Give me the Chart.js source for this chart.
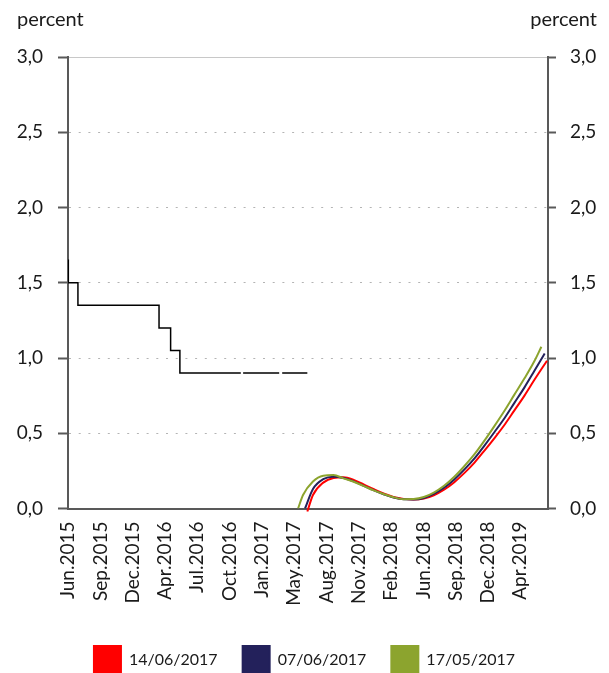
<!DOCTYPE html>
<html>
<head>
<meta charset="utf-8">
<script src="https://cdn.jsdelivr.net/npm/chart.js@4.4.1/dist/chart.umd.min.js"></script>
<style>
  html, body { margin: 0; padding: 0; background: #fff; }
  #wrap { position: relative; width: 609px; height: 673px; }
</style>
</head>
<body>
<div id="wrap"><canvas id="grafico" width="609" height="673"></canvas></div>
<script>
// Policy rate (black step line), dates of the changes
const taxaDatas = ['2015-06-22', '2015-06-23', '2015-07-22', '2016-03-23', '2016-04-27', '2016-05-25',
  '2016-11-25', '2016-11-28', '2016-12-02', '2017-03-21', '2017-03-25', '2017-03-30', '2017-06-14'];
const taxaValores = [1.65, 1.50, 1.35, 1.20, 1.05, 0.90, 0.90, null, 0.90, 0.90, null, 0.90, 0.90];

// Forward curve 14/06/2017 (red)
const curvaVermelhaDatas = ['2017-06-14', '2017-07-01', '2017-08-01', '2017-09-01', '2017-10-01', '2017-11-01', '2017-12-01',
  '2018-01-01', '2018-02-01', '2018-03-01', '2018-04-01', '2018-05-01', '2018-06-01', '2018-07-01', '2018-08-01',
  '2018-09-01', '2018-10-01', '2018-11-01', '2018-12-01', '2019-01-01', '2019-02-01', '2019-03-01', '2019-04-01',
  '2019-05-01', '2019-06-08'];
const curvaVermelhaValores = [-0.02, 0.09, 0.172, 0.203, 0.207, 0.19, 0.16, 0.128, 0.098, 0.077, 0.064, 0.06, 0.066,
  0.088, 0.125, 0.175, 0.235, 0.305, 0.385, 0.47, 0.56, 0.65, 0.75, 0.855, 0.982];

// Forward curve 07/06/2017 (navy)
const curvaAzulDatas = ['2017-06-07', '2017-07-01', '2017-08-01', '2017-09-01', '2017-10-01', '2017-11-01', '2017-12-01',
  '2018-01-01', '2018-02-01', '2018-03-01', '2018-04-01', '2018-05-01', '2018-06-01', '2018-07-01', '2018-08-01',
  '2018-09-01', '2018-10-01', '2018-11-01', '2018-12-01', '2019-01-01', '2019-02-01', '2019-03-01', '2019-04-01',
  '2019-05-01', '2019-06-01'];
const curvaAzulValores = [0.0, 0.13, 0.195, 0.211, 0.203, 0.18, 0.15, 0.12, 0.093, 0.073, 0.061, 0.06, 0.07,
  0.097, 0.138, 0.193, 0.258, 0.333, 0.418, 0.51, 0.605, 0.70, 0.805, 0.915, 1.03];

// Forward curve 17/05/2017 (green)
const curvaVerdeDatas = ['2017-05-17', '2017-06-01', '2017-07-01', '2017-08-01', '2017-09-01', '2017-10-01', '2017-11-01',
  '2017-12-01', '2018-01-01', '2018-02-01', '2018-03-01', '2018-04-01', '2018-05-01', '2018-06-01', '2018-07-01',
  '2018-08-01', '2018-09-01', '2018-10-01', '2018-11-01', '2018-12-01', '2019-01-01', '2019-02-01', '2019-03-01',
  '2019-04-01', '2019-05-01', '2019-05-22'];
const curvaVerdeValores = [0.0, 0.09, 0.18, 0.218, 0.222, 0.20, 0.178, 0.15, 0.12, 0.095, 0.075, 0.062, 0.063, 0.076,
  0.106, 0.151, 0.211, 0.281, 0.361, 0.451, 0.551, 0.655, 0.755, 0.865, 0.98, 1.075];

// Legend labels
const rotulosSeries = ['14/06/2017', '07/06/2017', '17/05/2017'];

// X axis: tick positions and their labels
const inicioEixo = '2015-06-22';
const fimEixo = '2019-06-11';
const ticksDatas = ['2015-06-22', '2015-09-28', '2016-01-03', '2016-04-10', '2016-07-16', '2016-10-22', '2017-01-28',
  '2017-05-05', '2017-08-11', '2017-11-16', '2018-02-22', '2018-05-31', '2018-09-05', '2018-12-12', '2019-03-19'];
const ticksRotulos = ['Jun.2015', 'Sep.2015', 'Dec.2015', 'Apr.2016', 'Jul.2016', 'Oct.2016', 'Jan.2017',
  'May.2017', 'Aug.2017', 'Nov.2017', 'Feb.2018', 'Jun.2018', 'Sep.2018', 'Dec.2018', 'Apr.2019'];

// Y axis ticks (both sides)
const ticksY = [0, 0.5, 1.0, 1.5, 2.0, 2.5, 3.0];

// Converte data ISO em número de dias
function dia(d) {
    return Date.parse(d) / 864e5;
}

function pontos(datas, valores) {
    return datas.map((d, i) => ({ x: dia(d), y: valores[i] }));
}

const corTexto = '#1a1a1a';
const corEixo = '#595959';
const fonte = { family: 'Lato', size: 19 };

// Rótulos "percent" no topo
const rotulosPercent = {
    id: 'rotulosPercent',
    afterDraw(chart) {
        let ctx = chart.ctx;
        ctx.save();
        ctx.font = '20px Lato';
        ctx.fillStyle = corTexto;
        ctx.textBaseline = 'alphabetic';
        ctx.textAlign = 'left';
        ctx.fillText('percent', 17, 26);
        ctx.textAlign = 'right';
        ctx.fillText('percent', 597, 26);
        ctx.restore();
    }
};

function formatarY(v) {
    return v.toFixed(1).replace('.', ',');
}

function eixoY(posicao, largura, tamanhoTick, padding, comGrade) {
    return {
        type: 'linear',
        position: posicao,
        min: 0,
        max: 3,
        afterBuildTicks: s => { s.ticks = ticksY.map(v => ({ value: v })); },
        afterFit: s => { s.width = largura; },
        ticks: { padding: padding, color: corTexto, font: fonte, callback: v => formatarY(v) },
        grid: {
            drawOnChartArea: comGrade,
            color: c => (c.tick && c.tick.value === 3) ? '#c8c8c8' : '#b4b4b4',
            lineWidth: 1,
            tickLength: tamanhoTick,
            tickColor: corEixo,
            tickWidth: 2
        },
        border: {
            color: corEixo,
            width: 2,
            dash: c => (c.tick && c.tick.value === 3) ? [] : [2, 7.7]
        }
    };
}

let ctx = document.getElementById('grafico').getContext('2d');

window.myChart = new Chart(ctx, {
    type: 'line',
    data: {
        datasets: [
            {
                label: 'policy rate',
                data: pontos(taxaDatas, taxaValores),
                borderColor: '#000000',
                borderWidth: 1.5,
                stepped: true,
                spanGaps: false,
                pointRadius: 0,
                order: 3
            },
            {
                label: rotulosSeries[0],
                data: pontos(curvaVermelhaDatas, curvaVermelhaValores),
                borderColor: '#ff0000',
                backgroundColor: '#ff0000',
                borderWidth: 2,
                cubicInterpolationMode: 'monotone',
                pointRadius: 0,
                clip: { left: 0, top: 0, right: 0, bottom: 5 },
                order: 2
            },
            {
                label: rotulosSeries[1],
                data: pontos(curvaAzulDatas, curvaAzulValores),
                borderColor: '#23215b',
                backgroundColor: '#23215b',
                borderWidth: 2,
                cubicInterpolationMode: 'monotone',
                pointRadius: 0,
                order: 1
            },
            {
                label: rotulosSeries[2],
                data: pontos(curvaVerdeDatas, curvaVerdeValores),
                borderColor: '#8ca42e',
                backgroundColor: '#8ca42e',
                borderWidth: 2,
                cubicInterpolationMode: 'monotone',
                pointRadius: 0,
                order: 0
            }
        ]
    },
    options: {
        responsive: false,
        animation: false,
        devicePixelRatio: 1,
        layout: { padding: { top: 57, bottom: -10, left: 0, right: 0 } },
        scales: {
            x: {
                type: 'linear',
                min: dia(inicioEixo),
                max: dia(fimEixo),
                afterBuildTicks: s => { s.ticks = ticksDatas.map(d => ({ value: dia(d) })); },
                afterFit: s => { s.height = 112.5; },
                grid: { display: false, drawTicks: false },
                border: { display: true, color: corEixo, width: 2 },
                ticks: {
                    autoSkip: false,
                    maxRotation: 90,
                    minRotation: 90,
                    padding: 13,
                    color: corTexto,
                    font: fonte,
                    callback: (v, i) => ticksRotulos[i]
                }
            },
            y: eixoY('left', 68, 10, 15, true),
            y2: eixoY('right', 61, 8, 14, false)
        },
        plugins: {
            tooltip: { enabled: false },
            legend: {
                position: 'bottom',
                labels: {
                    boxWidth: 27,
                    boxHeight: 27,
                    padding: 25,
                    color: corTexto,
                    font: { family: 'Lato', size: 16 },
                    filter: item => item.datasetIndex > 0,
                    sort: (a, b) => a.datasetIndex - b.datasetIndex
                }
            }
        }
    },
    plugins: [rotulosPercent]
});
</script>
</body>
</html>
